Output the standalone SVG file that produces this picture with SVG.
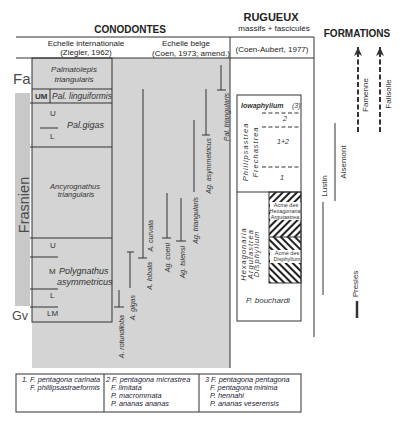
<svg xmlns="http://www.w3.org/2000/svg" width="403" height="428" viewBox="0 0 403 428">
<defs>
<style>
text{font-family:"Liberation Sans",Arial,sans-serif;fill:#222}
.h{font-weight:bold;font-size:10px}
.s8{font-size:8px}
.z{font-style:italic;font-size:8px;fill:#333}
.sp{font-style:italic;font-size:7px;fill:#333}
.lg{font-style:italic;font-size:7.3px;fill:#223}
.fm{font-size:8px;fill:#333}
.big{fill:#4a4a4a}
.ln{stroke:#333;stroke-width:1;fill:none}
.dl{stroke:#333;stroke-width:1;fill:none;stroke-dasharray:4 2.5}
.ar{stroke:#333;stroke-width:2;fill:none;stroke-dasharray:5 2.5}
.ac{font-size:5.5px;fill:#333}
.rg{font-style:italic;font-size:7.5px;fill:#333;letter-spacing:1px}
</style>
<pattern id="hA" width="5" height="5" patternUnits="userSpaceOnUse" patternTransform="rotate(45)"><rect width="2" height="5" fill="#222"/></pattern>
<pattern id="hB" width="5" height="5" patternUnits="userSpaceOnUse" patternTransform="rotate(-45)"><rect width="2" height="5" fill="#222"/></pattern>
<marker id="arr" viewBox="0 0 9 8" refX="9" refY="4" markerWidth="9" markerHeight="8" markerUnits="userSpaceOnUse" orient="auto"><path d="M0,0 L9,4 L0,8 L2.5,4 z" fill="#333"/></marker>
</defs>
<rect width="403" height="428" fill="#fff"/>

<g id="headers">
<text class="h" x="130" y="33" text-anchor="middle">CONODONTES</text>
<text class="h" x="271" y="21" text-anchor="middle" style="font-size:11px">RUGUEUX</text>
<text class="s8" x="274" y="30.5" text-anchor="middle">massifs + fasciculés</text>
<text class="h" x="357" y="37" text-anchor="middle">FORMATIONS</text>
<text class="s8" x="86" y="46" text-anchor="middle">Echelle internationale</text>
<text class="s8" x="86" y="55" text-anchor="middle">(Ziegler, 1962)</text>
<text class="s8" x="186" y="46" text-anchor="middle">Echelle belge</text>
<text class="s8" x="191" y="56" text-anchor="middle">(Coen, 1973; amend.)</text>
<text class="s8" x="272" y="52" text-anchor="middle">(Coen-Aubert, 1977)</text>
</g>

<g id="stages">
<rect x="32" y="58" width="198" height="310" fill="#d4d4d4"/>
<rect x="15" y="93" width="15" height="213" fill="#c8c8c8"/>
<text class="big" x="13" y="84" style="font-size:15px">Fa</text>
<text class="big" x="12" y="320" style="font-size:12.5px">Gv</text>
<text class="big" transform="translate(29,205) rotate(-90)" text-anchor="middle" style="font-size:14.5px">Frasnien</text>
</g>

<g id="frame">
<path class="ln" d="M16,37 H314 M16,58 H314 M230,37 V368 M314,37 V337"/>
<rect class="ln" x="32" y="58" width="80" height="264"/>
</g>

<g id="zones">
<path class="ln" d="M32,89 H112 M50,89 V103 M30,103 H112 M40,128 H58 M30,147 H112 M30,238 H112 M30,257 H58 M30,289 H58 M30,307 H58"/>
<text class="z" x="74" y="72" text-anchor="middle">Palmatolepis</text>
<text class="z" x="74" y="82" text-anchor="middle">triangularis</text>
<text class="s8" x="35" y="99" style="font-weight:bold;fill:#333">UM</text>
<text class="z" x="52" y="99" style="font-size:8.5px">Pal. linguiformis</text>
<text class="s8" x="50" y="116" style="fill:#333">U</text>
<text class="s8" x="50" y="139" style="fill:#333">L</text>
<text class="z" x="67" y="128" style="font-size:9px">Pal.gigas</text>
<text class="z" x="75" y="188.5" text-anchor="middle" style="font-size:7.5px">Ancyrognathus</text>
<text class="z" x="76" y="197" text-anchor="middle" style="font-size:7.5px">triangularis</text>
<text class="s8" x="50" y="248" style="fill:#333">U</text>
<text class="s8" x="49" y="274" style="fill:#333">M</text>
<text class="z" x="59" y="274" style="font-size:9px">Polygnathus</text>
<text class="z" x="57" y="285" style="font-size:9px">asymmetricus</text>
<text class="s8" x="50" y="298" style="fill:#333">L</text>
<text class="s8" x="47" y="316" style="fill:#333">LM</text>
</g>

<g id="connectors">
<path class="ln" d="M221,65 V90 M217,90 H226 M206,89 V135 M202,135 H210 M194,120 V192 M181,198 V241 M176,241 H186 M167,193 V238 M162,238 H171 M143,89 V258 M138,258 H147 M130,252 V288 M127,252 H134 M119,290 V307 M114,307 H124"/>
</g>

<g id="species">
<text class="sp" transform="translate(229,93) rotate(-90)" text-anchor="end">Pal. triangularis</text>
<text class="sp" transform="translate(211,138) rotate(-90)" text-anchor="end">Ag. asymmetricus</text>
<text class="sp" transform="translate(198,197) rotate(-90)" text-anchor="end">Ag. triangularis</text>
<text class="sp" transform="translate(185,246) rotate(-90)" text-anchor="end">Ag. tsiensi</text>
<text class="sp" transform="translate(170,243) rotate(-90)" text-anchor="end">Ag. coeni</text>
<text class="sp" transform="translate(153,220) rotate(-90)" text-anchor="end">A. curvata</text>
<text class="sp" transform="translate(152,262) rotate(-90)" text-anchor="end">A. lobata</text>
<text class="sp" transform="translate(135,295) rotate(-90)" text-anchor="end">A. gigas</text>
<text class="sp" transform="translate(124,315) rotate(-90)" text-anchor="end">A. rotundiloba</text>
</g>

<g id="rugueux">
<rect class="ln" x="237" y="95" width="64" height="226"/>
<text class="sp" x="241" y="108" style="font-weight:bold">Iowaphyllum</text>
<text class="sp" x="292" y="108">(3)</text>
<path class="dl" d="M262,113 H301 M262,127 H301 M262,167 H301"/>
<path class="ln" d="M237,192 H301"/>
<text class="sp" x="285" y="121" text-anchor="middle">2</text>
<text class="sp" x="283" y="144" text-anchor="middle">1+2</text>
<text class="sp" x="282" y="180" text-anchor="middle">1</text>
<text class="rg" transform="translate(248,152) rotate(-90)" text-anchor="middle">Phillipsastrea</text>
<text class="rg" transform="translate(258,152) rotate(-90)" text-anchor="middle">Frechastrea</text>
<rect x="269" y="192" width="32" height="45" fill="url(#hA)"/>
<rect x="269" y="237" width="32" height="46" fill="url(#hB)"/>
<rect x="270" y="202" width="31" height="18" fill="#fff"/>
<rect x="270" y="250" width="31" height="13" fill="#fff"/>
<rect class="ln" x="269" y="192" width="32" height="91"/>
<path class="ln" d="M269,237 H301"/>
<text class="ac" x="286" y="207" text-anchor="middle">Acmé des</text>
<text class="ac" x="285" y="213" text-anchor="middle">Hexagonaria</text>
<text class="ac" x="285" y="219" text-anchor="middle">Argutastrea</text>
<text class="ac" x="287" y="255" text-anchor="middle">Acmé des</text>
<text class="ac" x="287" y="261" text-anchor="middle">Disphyllum</text>
<text class="rg" transform="translate(246,254) rotate(-90)" text-anchor="middle">Hexagonaria</text>
<text class="rg" transform="translate(252.5,254) rotate(-90)" text-anchor="middle">Argutastrea</text>
<text class="rg" transform="translate(259,254) rotate(-90)" text-anchor="middle">Disphyllum</text>
<text class="sp" x="246" y="303" style="font-size:8px">P. bouchardi</text>
</g>

<g id="formations">
<path class="ar" d="M358,132 V47" marker-end="url(#arr)"/>
<path class="ar" d="M380,132 V47" marker-end="url(#arr)"/>
<text class="fm" transform="translate(368,95) rotate(-90)" text-anchor="middle">Famenne</text>
<text class="fm" transform="translate(391,94) rotate(-90)" text-anchor="middle">Falisolle</text>
<path class="ln" d="M335,123 V201"/>
<text class="fm" transform="translate(346,162) rotate(-90)" text-anchor="middle">Aisemont</text>
<path class="ln" d="M323,202 V295"/>
<text class="fm" transform="translate(327,186) rotate(-90)" text-anchor="middle">Lustin</text>
<path class="ln" d="M357,301 V318" style="stroke-width:2.5"/>
<text class="fm" transform="translate(358,284) rotate(-90)" text-anchor="middle">Presles</text>
</g>

<g id="legend">
<rect class="ln" x="16" y="374" width="285" height="38"/>
<path class="ln" d="M104,374 V412 M199,374 V412"/>
<text class="lg" x="22" y="382">1. F. pentagona carinata</text>
<text class="lg" x="30" y="390">F. phillipsastraeformis</text>
<text class="lg" x="106" y="382">2  F. pentagona micrastrea</text>
<text class="lg" x="111" y="390">F. limitata</text>
<text class="lg" x="111" y="398">P. macrommata</text>
<text class="lg" x="111" y="405.5">P. ananas ananas</text>
<text class="lg" x="205" y="382">3  F.  pentagona pentagona</text>
<text class="lg" x="210" y="390">F. pentagona minima</text>
<text class="lg" x="210" y="398">P. hennahi</text>
<text class="lg" x="210" y="405.5">P. ananas veserensis</text>
</g>
</svg>
